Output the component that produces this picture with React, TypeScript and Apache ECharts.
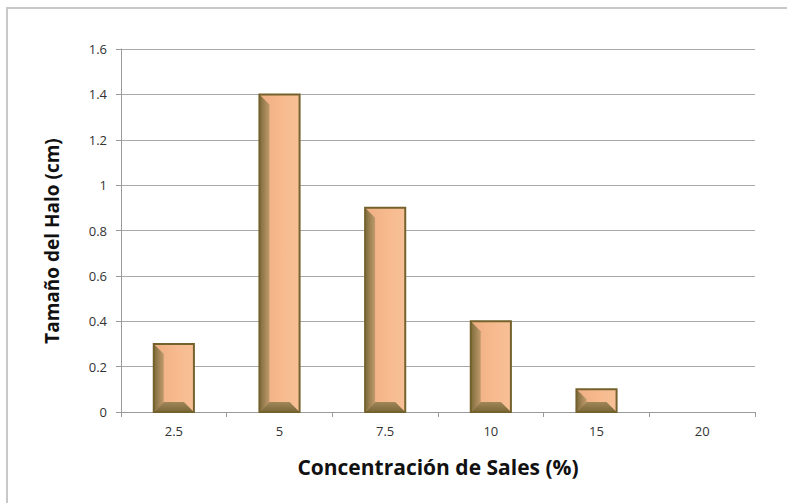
import React, { useEffect, useRef } from "react";
import * as echarts from "echarts";

// Salt concentration categories (%) and measured halo size (cm)
const categories = ["2.5", "5", "7.5", "10", "15", "20"];
const haloSize = [0.3, 1.4, 0.9, 0.4, 0.1, 0];

const xTitle = "Concentración de Sales (%)";
const yTitle = "Tamaño del Halo (cm)";

const FACE = "#F6B98C";
const EDGE = "#74622d";

function renderBevelBar(params: any, api: any) {
  const idx = api.value(0);
  const val = api.value(1);
  if (!val) return null;
  const top = api.coord([idx, val]);
  const base = api.coord([idx, 0]);
  const bw = api.size([1, 0])[0] * 0.38;
  const x0 = top[0] - bw / 2;
  const x1 = top[0] + bw / 2;
  const y0 = top[1];
  const y1 = base[1];
  const h = y1 - y0;
  const b = Math.min(10, h / 2, bw / 2);
  return {
    type: "group",
    children: [
      {
        type: "rect",
        shape: { x: x0, y: y0, width: bw, height: h },
        style: {
          fill: new echarts.graphic.LinearGradient(0, 0, 1, 0, [
            { offset: 0, color: "#EDAE82" },
            { offset: 0.5, color: FACE },
            { offset: 1, color: "#F8C097" },
          ]),
        },
      },
      {
        type: "polygon",
        shape: {
          points: [
            [x0, y0],
            [x0 + b, y0 + b],
            [x0 + b, y1 - b],
            [x0, y1],
          ],
        },
        style: {
          fill: new echarts.graphic.LinearGradient(0, 0, 1, 0, [
            { offset: 0, color: "#7d6b3b" },
            { offset: 1, color: "#c09a6c" },
          ]),
        },
      },
      {
        type: "polygon",
        shape: {
          points: [
            [x0, y1],
            [x0 + b, y1 - b],
            [x1 - b, y1 - b],
            [x1, y1],
          ],
        },
        style: {
          fill: new echarts.graphic.LinearGradient(0, 0, 0, 1, [
            { offset: 0, color: "#a0875a" },
            { offset: 1, color: "#796637" },
          ]),
        },
      },
      {
        type: "rect",
        shape: { x: x0, y: y0, width: bw, height: h },
        style: { fill: "none", stroke: EDGE, lineWidth: 2 },
      },
    ],
  };
}

export default function App() {
  const ref = useRef<HTMLDivElement>(null);

  useEffect(() => {
    if (!ref.current) return;
    const chart = echarts.init(ref.current, undefined, { renderer: "svg" });
    const labelFont = "'Open Sans', Lato, sans-serif";
    chart.setOption({
      animation: false,
      backgroundColor: "#ffffff",
      grid: { left: 121, right: 32, top: 49, bottom: 91 },
      graphic: [
        {
          type: "rect",
          shape: { x: 7, y: 8, width: 820, height: 600 },
          style: { fill: "none", stroke: "#c8c8c8", lineWidth: 2 },
          silent: true,
        },
        {
          type: "text",
          x: 438,
          y: 467,
          style: {
            text: xTitle,
            fontFamily: labelFont,
            fontWeight: "bold",
            fontSize: 21,
            fill: "#111111",
            align: "center",
            verticalAlign: "middle",
          },
        },
        {
          type: "text",
          x: 52,
          y: 241,
          rotation: Math.PI / 2,
          style: {
            text: yTitle,
            fontFamily: labelFont,
            fontWeight: "bold",
            fontSize: 19,
            fill: "#111111",
            align: "center",
            verticalAlign: "middle",
          },
        },
      ],
      xAxis: {
        type: "category",
        data: categories,
        axisLine: { show: true, lineStyle: { color: "#9a9a9a", width: 1 } },
        axisTick: { show: true, alignWithLabel: false, length: 5, lineStyle: { color: "#9a9a9a" } },
        axisLabel: {
          color: "#333333",
          fontFamily: labelFont,
          fontSize: 13,
          margin: 12,
        },
        splitLine: { show: false },
      },
      yAxis: {
        type: "value",
        min: 0,
        max: 1.6,
        interval: 0.2,
        axisLine: { show: true, lineStyle: { color: "#9a9a9a", width: 1 } },
        axisTick: { show: true, length: 5, lineStyle: { color: "#9a9a9a" } },
        axisLabel: {
          color: "#333333",
          fontFamily: labelFont,
          fontSize: 13,
          margin: 14,
          formatter: (v: number) => String(Math.round(v * 10) / 10),
        },
        splitLine: { show: true, lineStyle: { color: "#a8a8a8", width: 1 } },
      },
      series: [
        {
          type: "custom",
          renderItem: renderBevelBar,
          encode: { x: 0, y: 1 },
          data: haloSize.map((v, i) => [i, v]),
          z: 3,
        },
      ],
    });
    return () => chart.dispose();
  }, []);

  return (
    <div
      ref={ref}
      style={{ position: "fixed", left: 0, top: 0, width: 787, height: 503 }}
    />
  );
}
